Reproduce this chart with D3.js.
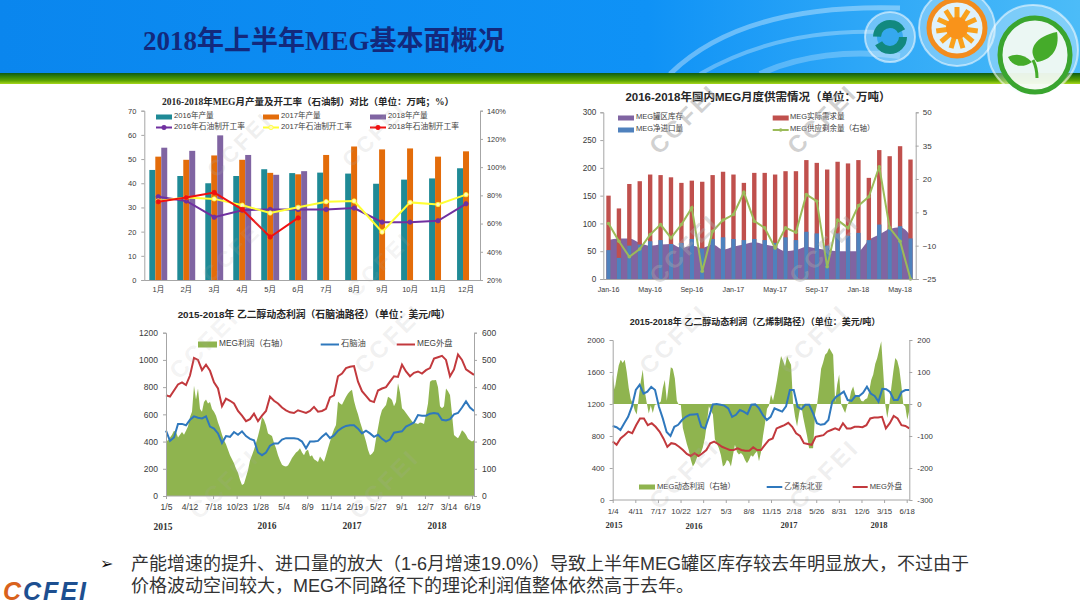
<!DOCTYPE html>
<html><head><meta charset="utf-8">
<script src="https://cdnjs.cloudflare.com/ajax/libs/d3/7.8.5/d3.min.js"></script>
<style>
html,body{margin:0;padding:0;background:#fff;overflow:hidden}
svg{display:block}
text{font-family:"Liberation Sans","Noto Sans CJK SC",sans-serif}
</style></head><body>
<svg id="c" width="1080" height="608"></svg>
<script>
// ---------- chart 1 data ----------
const months = ["1月","2月","3月","4月","5月","6月","7月","8月","9月","10月","11月","12月"];
const output2016 = [45.5,43,40,43,45.8,44.2,44.4,44,39.8,41.5,42,46.2];
const output2017 = [51,49.7,51.5,49.7,44.3,43.7,51.7,55.2,54,54.4,51,53.2];
const output2018 = [54.7,53.4,59.8,51.7,43.5,45];
const rate2016 = [79,76,64.5,69.5,70,70,70,71,61,61,62,74];
const rate2017 = [76,78.5,77.5,73,67.5,71.5,75.5,76,54,75,73.5,80.5];
const rate2018 = [75.5,78.5,82,70,50.5,64];
// ---------- chart 2 data ----------
const supplyLabels = ["Jan-16","May-16","Sep-16","Jan-17","May-17","Sep-17","Jan-18","May-18"];
const demand = [150,127,171,176,188,187,183,173,177,175,187,193,188,173,191,191,188,194,194,214,209,197,211,208,214,182,232,221,239,215];
const imports = [52,38,60,62,68,70,63,65,72,55,72,75,72,70,72,70,65,75,70,85,82,60,82,78,83,70,98,90,95,73];
const inventory = [70,73,73,65,60,62,63,56,60,56,62,53,58,62,66,62,58,50,52,58,55,52,50,50,50,70,80,90,93,78];
const surplus = [0,-8,-15,-11.5,-5,-0.5,-6.5,-0.5,7,-21.5,-3.5,1.5,4,14,1,-2,-11,-2,-4,13,10,-19.5,1.5,-2,8,12,25.5,-2,-8,-25];
// ---------- chart 3 data ----------
const napDates = ["1/5","4/12","7/18","10/23","1/28","5/4","8/9","11/14","2/19","5/27","9/1","12/7","3/14","6/19"];
const napMeg = [740,730,775,820,835,815,885,1015,1000,925,965,920,835,790,660,715,700,680,625,590,550,565,605,550,590,625,730,700,680,650,630,615,610,630,620,610,625,655,620,625,640,725,740,880,900,940,950,955,840,770,735,700,690,775,790,800,840,880,875,965,915,880,905,915,900,925,940,1010,1020,1030,1000,880,930,1040,1000,930,910,890];
const naphtha = [480,405,430,530,530,520,560,585,575,570,585,510,495,460,390,440,435,470,450,475,440,420,410,320,300,320,370,385,385,415,425,425,425,420,400,350,400,400,405,435,460,425,445,480,500,515,520,520,495,460,480,460,435,450,420,400,415,465,470,475,510,525,540,595,590,590,605,610,605,560,555,565,600,610,650,695,650,625];
const napProfit = [200,205,215,225,240,235,215,225,235,225,240,255,290,310,405,355,395,320,310,345,355,340,345,320,310,295,270,250,225,205,190,170,150,135,120,100,85,60,40,45,70,95,130,150,170,195,220,250,290,280,260,230,225,220,195,175,150,130,115,110,108,112,125,140,150,160,165,175,160,150,165,170,145,150,135,130,125,145,135,126,150,175,200,224,245,261,347,340,335,350,365,377,385,390,350,322,300,273,250,225,200,170,150,155,165,210,250,290,316,325,334,365,360,353,330,345,414,380,322,315,305,295,285,275,267,267,265,270,268,265,300,340,420,425,425,426,400,330,322,330,395,385,371,300,224,218,212,225,242,235,225,210,205,200,205];
// ---------- chart 4 data ----------
const ethDates = ["1/4","4/11","7/17","10/22","1/27","5/3","8/8","11/15","2/18","5/26","8/31","12/6","3/15","6/18"];
const ethMeg = [730,690,770,810,855,835,935,1020,1020,935,960,915,855,770,665,710,700,665,625,575,550,585,550,585,625,710,730,700,665,645,625,625,645,625,615,615,660,625,625,690,750,770,895,915,935,965,915,835,800,710,700,690,790,800,810,855,875,895,875,960,895,895,915,915,910,935,1020,1030,1030,1040,895,960,1050,1020,935,925,895];
const ethylene = [925,910,875,960,1040,1170,1375,1440,1330,1355,1415,1375,1165,1020,850,800,915,940,1000,1040,1065,1070,1075,915,895,1040,1195,1200,1190,1180,1145,1040,1065,1125,1105,1075,1190,1195,1145,1060,1000,1040,1145,1125,1105,1170,1375,1375,1165,1135,1190,1190,1085,960,940,950,1000,1230,1290,1320,1355,1250,1240,1300,1300,1340,1415,1330,1300,1230,1390,1385,1350,1250,1250,1350,1375,1375];
const ethProfit = [92,45,85,120,138,128,138,100,50,15,2,-20,-33,20,70,107,40,3,-30,-5,-28,-3,-1,3,8,50,75,10,60,115,110,80,10,-3,-3,-75,-100,-125,-145,-175,-195,-185,-168,-160,-153,-135,-106,-60,-7,-20,-33,-110,-125,-138,-160,-195,-190,-175,-180,-195,-160,-127,-150,-158,-153,-160,-175,-185,-175,-160,-165,-155,-148,-179,-150,-100,-60,-15,-5,30,10,40,75,115,150,135,118,150,135,123,2,-40,-70,-30,-1,-40,-70,-100,-138,-138,-138,-30,-1,50,110,130,154,160,175,165,154,5,60,92,-1,-15,-28,-5,10,40,55,30,24,24,10,8,15,18,40,75,92,125,144,170,196,100,-1,-44,-5,50,100,144,135,110,60,-1,-8,-49,-20];
// ---------- text ----------
const slideTitle = "2018年上半年MEG基本面概况";
const noteLines = ["产能增速的提升、进口量的放大（1-6月增速19.0%）导致上半年MEG罐区库存较去年明显放大，不过由于","价格波动空间较大，MEG不同路径下的理论利润值整体依然高于去年。"];
const yearLabels = ["2015","2016","2017","2018"];

const svg = d3.select("#c");
const defs = svg.append("defs");
function grad(id, dir, stops){
  const g = defs.append("linearGradient").attr("id",id).attr("x1",0).attr("y1",0)
    .attr("x2",dir==="h"?1:0).attr("y2",dir==="h"?0:1);
  stops.forEach(s=>g.append("stop").attr("offset",s[0]).attr("stop-color",s[1]));
}
grad("hdr","h",[[0,"#0a86ee"],[0.6,"#0f92f6"],[1,"#4cbcf8"]]);
grad("band","v",[[0,"#0f5a16"],[0.3,"#2f7f0a"],[0.7,"#5da400"],[1,"#a8d81c"]]);
defs.append("clipPath").attr("id","hclip").append("rect").attr("x",0).attr("y",0).attr("width",1080).attr("height",74);

// header
svg.append("rect").attr("width",1080).attr("height",74).attr("fill","url(#hdr)");
const sw = svg.append("g").attr("clip-path","url(#hclip)").attr("fill","none").attr("stroke","#fff");
sw.append("path").attr("d","M670 74 C720 25 800 5 900 8").attr("stroke-width",5).attr("opacity",.35);
sw.append("path").attr("d","M700 74 C750 45 810 30 880 32").attr("stroke-width",4).attr("opacity",.3);
sw.append("path").attr("d","M760 74 C800 55 850 50 900 56").attr("stroke-width",6).attr("opacity",.25);
svg.append("rect").attr("y",73).attr("width",1080).attr("height",11).attr("fill","url(#band)");
svg.append("text").attr("x",143).attr("y",50).attr("fill","#13297c").attr("font-size",27).attr("font-weight",700)
  .style("font-family",'"Liberation Serif","Noto Sans CJK SC",serif').text(slideTitle);

// icons
function bubble(cx,cy,r){svg.append("circle").attr("cx",cx).attr("cy",cy).attr("r",r).attr("fill","#e8f6fd").attr("fill-opacity",.35).attr("stroke","#fff").attr("stroke-opacity",.55).attr("stroke-width",2);}
bubble(890,37,25);
svg.append("circle").attr("cx",890).attr("cy",37).attr("r",13).attr("fill","#35a8ee").attr("stroke","#12897f").attr("stroke-width",8).attr("stroke-dasharray","34 7");
bubble(957,28,38);
svg.append("circle").attr("cx",957).attr("cy",28).attr("r",28).attr("fill","#dff2fb").attr("stroke","#f28c1e").attr("stroke-width",5);
d3.range(11).forEach(i=>{const a=i*2*Math.PI/11-Math.PI/2;svg.append("line").attr("x1",957+10*Math.cos(a)).attr("y1",28+10*Math.sin(a)).attr("x2",957+21*Math.cos(a)).attr("y2",28+21*Math.sin(a)).attr("stroke","#f9a11c").attr("stroke-width",5);});
svg.append("circle").attr("cx",957).attr("cy",28).attr("r",11).attr("fill","#f9931a");
bubble(1033,50,45);
svg.append("ellipse").attr("cx",1035).attr("cy",55).attr("rx",35).attr("ry",37).attr("fill","#f4fbf2").attr("fill-opacity",.92).attr("stroke","#3aa52f").attr("stroke-width",5);
svg.append("path").attr("d","M1037 62 C1026 50 1036 36 1057 32 C1060 48 1052 60 1037 62Z").attr("fill","#45ab2a");
svg.append("path").attr("d","M1032 62 C1024 54 1016 53 1008 57 C1012 66 1022 69 1032 62Z").attr("fill","#45ab2a");
svg.append("path").attr("d","M1033 60 C1036 66 1037 72 1037 78").attr("fill","none").attr("stroke","#45ab2a").attr("stroke-width",3);

// ---------- helpers ----------
const AX="#a6a6a6", TX="#3a3a3a";
function styleAxis(g,fs){
  g.selectAll("path,line").attr("stroke",AX).attr("stroke-width",1);
  g.selectAll("text").attr("fill",TX).attr("font-size",fs);
  return g;
}
function title(t,x,y,fs,fam){
  svg.append("text").attr("x",x).attr("y",y).attr("text-anchor","middle").attr("font-size",fs).attr("font-weight",700).attr("fill","#262626")
   .style("font-family",fam||'"Liberation Sans","Noto Sans CJK SC",sans-serif').text(t);
}
function lab(t,x,y,fs,col){
  svg.append("text").attr("x",x).attr("y",y).attr("dominant-baseline","middle").attr("font-size",fs).attr("fill",col||"#404040").text(t);
}
function swatch(x,y,w,h,c){svg.append("rect").attr("x",x).attr("y",y-h/2).attr("width",w).attr("height",h).attr("fill",c);}
function lineSw(x,y,w,c,sw){svg.append("line").attr("x1",x).attr("x2",x+w).attr("y1",y).attr("y2",y).attr("stroke",c).attr("stroke-width",sw||2);}

// ---------- chart 1 ----------
(function(){
 const L=144.3,R=480,T=110.7,B=280;
 title("2016-2018年MEG月产量及开工率（石油制）对比（单位：万吨；%）",308,105,9.5,'"Liberation Serif","Noto Sans CJK SC",serif');
 const x=d3.scaleBand().domain(months).range([L,R]).paddingInner(0.36).paddingOuter(0.18);
 const y=d3.scaleLinear().domain([0,70]).range([B,T]);
 const yR=d3.scaleLinear().domain([20,140]).range([B,T]);
 const inner=d3.scaleBand().domain([0,1,2]).range([0,x.bandwidth()]);
 [[output2016,"#1f8a96"],[output2017,"#e36c0a"],[output2018,"#8064a2"]].forEach((s,k)=>{
  svg.append("g").selectAll("rect").data(s[0]).join("rect")
   .attr("x",(d,i)=>x(months[i])+inner(k)).attr("width",inner.bandwidth())
   .attr("y",d=>y(d)).attr("height",d=>B-y(d)).attr("fill",s[1]);
 });
 const cx=(d,i)=>x(months[i])+x.bandwidth()/2;
 const ln=d3.line().x(cx).y(d=>yR(d));
 [[rate2016,"#7030a0","#7030a0"],[rate2017,"#ffff33","#fff8c0"],[rate2018,"#f01010","#f01010"]].forEach(s=>{
  svg.append("path").attr("d",ln(s[0])).attr("fill","none").attr("stroke",s[1]).attr("stroke-width",2);
  svg.append("g").selectAll("circle").data(s[0]).join("circle").attr("cx",cx).attr("cy",d=>yR(d)).attr("r",2.2).attr("fill",s[2]).attr("stroke",s[1]).attr("stroke-width",.8);
 });
 styleAxis(svg.append("g").attr("transform",`translate(${L},0)`).call(d3.axisLeft(y).tickValues(d3.range(0,71,10)).tickSize(3).tickPadding(5)),7.5);
 styleAxis(svg.append("g").attr("transform",`translate(${R},0)`).call(d3.axisRight(yR).tickValues(d3.range(20,141,20)).tickFormat(d=>d+"%").tickSize(3).tickPadding(4)),7.4);
 styleAxis(svg.append("g").attr("transform",`translate(0,${B})`).call(d3.axisBottom(x).tickSize(0).tickPadding(7)),7.5);
 const lg=[["2016年产量",156,117],["2017年产量",263,117],["2018年产量",370,117]];
 [["#1f8a96"],["#e36c0a"],["#8064a2"]].forEach((c,i)=>{swatch(lg[i][1],lg[i][2],16,5,c[0]);lab(lg[i][0],lg[i][1]+18,lg[i][2]-1,7.6);});
 [["2016年石油制开工率",156,"#7030a0","#7030a0"],["2017年石油制开工率",263,"#ffff33","#fff8c0"],["2018年石油制开工率",370,"#f01010","#f01010"]].forEach(a=>{
  lineSw(a[1],127.5,16,a[2]);svg.append("circle").attr("cx",a[1]+8).attr("cy",127.5).attr("r",2.2).attr("fill",a[3]).attr("stroke",a[2]).attr("stroke-width",.8);
  lab(a[0],a[1]+18,127,7.7);
 });
})();

// ---------- chart 2 ----------
(function(){
 const L=603.3,R=915.7,T=112.3,B=279;
 title("2016-2018年国内MEG月度供需情况（单位：万吨）",758,100.5,11.5);
 const idx=d3.range(demand.length);
 const x=d3.scaleBand().domain(idx).range([L,R]).paddingInner(0.58).paddingOuter(0.29);
 const y=d3.scaleLinear().domain([0,300]).range([B,T]);
 const yR=d3.scaleLinear().domain([-25,50]).range([B,T]);
 const cx=(d,i)=>x(i)+x.bandwidth()/2;
 svg.append("path").attr("d",d3.area().x(cx).y0(B).y1(d=>y(d)).curve(d3.curveMonotoneX)(inventory)).attr("fill","#8064a2");
 svg.append("g").selectAll("rect").data(demand).join("rect").attr("x",(d,i)=>x(i)).attr("width",x.bandwidth()).attr("y",d=>y(d)).attr("height",d=>B-y(d)).attr("fill","#c0504d");
 svg.append("g").selectAll("rect").data(imports).join("rect").attr("x",(d,i)=>x(i)).attr("width",x.bandwidth()).attr("y",d=>y(d)).attr("height",d=>B-y(d)).attr("fill","#4f81bd");
 svg.append("path").attr("d",d3.line().x(cx).y(d=>yR(d))(surplus)).attr("fill","none").attr("stroke","#9bbb59").attr("stroke-width",2);
 svg.append("g").selectAll("circle").data(surplus).join("circle").attr("cx",cx).attr("cy",d=>yR(d)).attr("r",1.8).attr("fill","#9bbb59");
 styleAxis(svg.append("g").attr("transform",`translate(${L},0)`).call(d3.axisLeft(y).tickValues(d3.range(0,301,50)).tickSize(3).tickPadding(4)),8.2);
 styleAxis(svg.append("g").attr("transform",`translate(${R},0)`).call(d3.axisRight(yR).tickValues([-25,-10,5,20,35,50]).tickSize(3).tickPadding(4)),8);
 const xa=d3.axisBottom(x).tickValues(idx.filter(i=>i%4===0)).tickFormat(i=>supplyLabels[i/4]).tickSize(0).tickPadding(8);
 styleAxis(svg.append("g").attr("transform",`translate(0,${B})`).call(xa),7.1);
 swatch(618,118,16,5,"#8064a2");lab("MEG罐区库存",636,117,7.5);
 swatch(772.7,118,16,5,"#c0504d");lab("MEG实际需求量",790,117,7.5);
 swatch(618,130,16,5,"#4f81bd");lab("MEG净进口量",636,129.5,7.5);
 lineSw(772.7,130,16,"#9bbb59");svg.append("circle").attr("cx",780.7).attr("cy",130).attr("r",1.8).attr("fill","#9bbb59");lab("MEG供应剩余量（右轴）",790,129.5,7.5);
})();

// profit charts
function spread(o){
 const {L,R,T,B,meg,feed,profit,dates,tickEnd,lMax,lStep,rMin,rMax,rStep,feedName,profName,lg,years,yearY,fs}=o;
 const y=d3.scaleLinear().domain([0,lMax]).range([B,T]);
 const yR=d3.scaleLinear().domain([rMin,rMax]).range([B,T]);
 const xi=n=>d3.scaleLinear().domain([0,n-1]).range([L,R]);
 const xp=xi(profit.length), xm=xi(meg.length), xf=xi(feed.length);
 const base=yR(Math.max(0,rMin));
 svg.append("path").attr("d",d3.area().x((d,i)=>xp(i)).y0(base).y1(d=>yR(d))(profit)).attr("fill","#8fb44f");
 svg.append("path").attr("d",d3.line().x((d,i)=>xf(i)).y(d=>y(d))(feed)).attr("fill","none").attr("stroke","#2f78bd").attr("stroke-width",2);
 svg.append("path").attr("d",d3.line().x((d,i)=>xm(i)).y(d=>y(d))(meg)).attr("fill","none").attr("stroke","#c2393d").attr("stroke-width",2);
 const plain=d=>String(d);
 styleAxis(svg.append("g").attr("transform",`translate(${L},0)`).call(d3.axisLeft(y).tickValues(d3.range(0,lMax+1,lStep)).tickFormat(plain).tickSize(3).tickPadding(5)),fs);
 styleAxis(svg.append("g").attr("transform",`translate(${R},0)`).call(d3.axisRight(yR).tickValues(d3.range(rMin,rMax+1,rStep)).tickFormat(plain).tickSize(3).tickPadding(5)),fs);
 const xt=d3.scalePoint().domain(dates).range([L,tickEnd]);
 const xg=styleAxis(svg.append("g").attr("transform",`translate(0,${B})`).call(d3.axisBottom(xt).tickSize(3).tickPadding(5)),fs);
 xg.select(".domain").attr("d",`M${L},0H${R}`);
 swatch(lg[0],o.lgY,lg[1],o.lgSw,"#8fb44f");lab(profName,lg[0]+lg[1]+2,o.lgY-.5,o.lgFs);
 lineSw(lg[2],o.lgY,lg[3],"#2f78bd");lab(feedName,lg[2]+lg[3]+2,o.lgY-.5,o.lgFs);
 lineSw(lg[4],o.lgY,lg[5],"#c2393d");lab("MEG外盘",lg[4]+lg[5]+2,o.lgY-.5,o.lgFs);
 yearLabels.forEach((t,i)=>svg.append("text").attr("x",years[i]).attr("y",yearY[i]).attr("text-anchor","middle").attr("font-size",o.yearFs).attr("font-weight",700).attr("fill","#333").style("font-family",'"Liberation Serif",serif').text(t));
}
title("2015-2018年 乙二醇动态利润（石脑油路径）（单位：美元/吨）",314,318,9.8);
spread({L:166,R:474,T:332.7,B:496,meg:napMeg,feed:naphtha,profit:napProfit,dates:napDates,tickEnd:472,lMax:1200,lStep:200,rMin:0,rMax:600,rStep:100,feedName:"石脑油",profName:"MEG利润（右轴）",lg:[198,19,320.7,18.3,396.7,18.3],lgY:344.5,lgSw:6,lgFs:8.3,years:[163,267,352,437],yearY:[530,529,529,529],fs:8.5,yearFs:9.5});
title("2015-2018年 乙二醇动态利润（乙烯制路径）（单位：美元/吨）",755,324.5,9);
spread({L:612.7,R:909.3,T:340,B:500,meg:ethMeg,feed:ethylene,profit:ethProfit,dates:ethDates,tickEnd:906.7,lMax:2000,lStep:400,rMin:-300,rMax:200,rStep:100,feedName:"乙烯东北亚",profName:"MEG动态利润（右轴）",lg:[639,16,766.7,15.6,852.7,15],lgY:487,lgSw:5,lgFs:7.6,years:[614,694,789,879],yearY:[528,529,528,528],fs:7.8,yearFs:8.5});

// watermarks
function wm(x,y,fs,a){svg.append("text").attr("transform",`translate(${x},${y}) rotate(-45)`).attr("text-anchor","middle").attr("font-size",fs).attr("font-weight",700).attr("letter-spacing",3).attr("fill",`rgba(170,170,170,${a})`).text("CCFEI");}
[[245,150,22,.2],[380,140,22,.18],[240,255,22,.14],[385,270,22,.14],[690,125,24,.55],[828,125,24,.55],[690,255,24,.4],[830,255,24,.4],[210,350,24,.15],[395,345,24,.18],[230,490,24,.15],[390,490,24,.18],[680,345,24,.2],[820,345,24,.2],[690,480,24,.2],[830,480,24,.2]].forEach(w=>wm(...w));

// footer
svg.append("text").attr("x",100).attr("y",569).attr("font-size",16).attr("fill","#111").style("font-family","DejaVu Sans").text("➢");
noteLines.forEach((t,i)=>svg.append("text").attr("x",131).attr("y",[570,592][i]).attr("font-size",18).attr("fill","#333").style("font-family",'"Liberation Sans","Noto Sans CJK SC",sans-serif').text(t));
const logo=svg.append("text").attr("x",3).attr("y",600).attr("font-size",25).attr("font-weight",700).attr("font-style","italic").attr("letter-spacing",2).style("font-family","Liberation Sans");
logo.append("tspan").attr("fill","#d9621c").text("C");
logo.append("tspan").attr("fill","#1d4f90").text("CFEI");
</script></body></html>
